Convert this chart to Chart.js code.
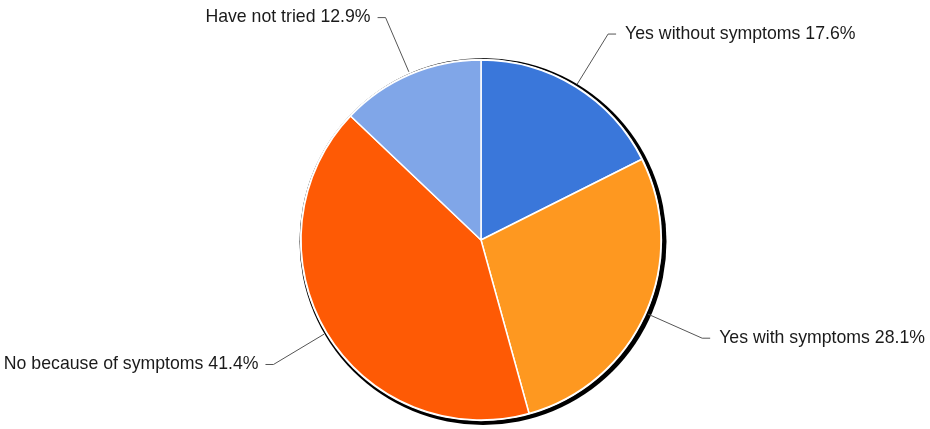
<!DOCTYPE html>
<html>
<head>
<meta charset="utf-8">
<script src="https://cdn.jsdelivr.net/npm/chart.js@4/dist/chart.umd.min.js"></script>
<style>
html,body{margin:0;padding:0;background:#fff;}
#wrap{width:930px;height:429px;position:relative;}
</style>
</head>
<body>
<div id="wrap"><canvas id="c" width="930" height="429"></canvas></div>
<script>
const categories = ["Yes without symptoms", "Yes with symptoms", "No because of symptoms", "Have not tried"];
const values = [17.6, 28.1, 41.4, 12.9];
const labelTexts = ["Yes without symptoms 17.6%", "Yes with symptoms 28.1%", "No because of symptoms 41.4%", "Have not tried 12.9%"];
const colors = ["#3a77da", "#fe9820", "#fe5a05", "#80a6e8"];

const shadowAndLabels = {
  id: 'shadowAndLabels',
  beforeDatasetsDraw(chart) {
    const meta = chart.getDatasetMeta(0);
    const arc = meta.data[0];
    const cx = arc.x, cy = arc.y, r = arc.outerRadius;
    const ctx = chart.ctx;
    ctx.save();
    ctx.fillStyle = '#000';
    ctx.beginPath();
    ctx.arc(cx + 2, cy + 1.5, r + 3.5, 0, Math.PI * 2);
    ctx.fill();
    ctx.fillStyle = '#fff';
    ctx.beginPath();
    ctx.arc(cx, cy, r + 1.2, 0, Math.PI * 2);
    ctx.fill();
    ctx.restore();
  },
  afterDatasetsDraw(chart) {
    const meta = chart.getDatasetMeta(0);
    const ctx = chart.ctx;
    ctx.save();
    ctx.font = '17.7px "Liberation Sans", Arial, sans-serif';
    ctx.textBaseline = 'middle';
    meta.data.forEach((a, i) => {
      const mid = (a.startAngle + a.endAngle) / 2;
      const cx = a.x, cy = a.y, r = a.outerRadius;
      const dx = Math.cos(mid), dy = Math.sin(mid);
      const sx = cx + dx * (r + 3), sy = cy + dy * (r + 3);
      const ex = cx + dx * 242, ey = cy + dy * 242;
      const right = dx >= 0;
      const hx = ex + (right ? 8 : -8);
      ctx.strokeStyle = '#555';
      ctx.lineWidth = 1;
      ctx.beginPath();
      ctx.moveTo(sx, sy);
      ctx.lineTo(ex, ey);
      ctx.lineTo(hx, ey);
      ctx.stroke();
      ctx.fillStyle = '#1a1a1a';
      ctx.textAlign = right ? 'left' : 'right';
      ctx.fillText(labelTexts[i], hx + (right ? 9 : -7), ey);
    });
    ctx.restore();
  }
};

new Chart(document.getElementById('c'), {
  type: 'pie',
  data: {
    labels: categories,
    datasets: [{
      data: values,
      backgroundColor: colors,
      borderColor: '#fff',
      borderWidth: 1.5,
      radius: 180
    }]
  },
  options: {
    responsive: false,
    animation: false,
    layout: { padding: { top: 60, bottom: 9, left: 32, right: 0 } },
    plugins: { legend: { display: false }, tooltip: { enabled: false } }
  },
  plugins: [shadowAndLabels]
});
</script>
</body>
</html>
